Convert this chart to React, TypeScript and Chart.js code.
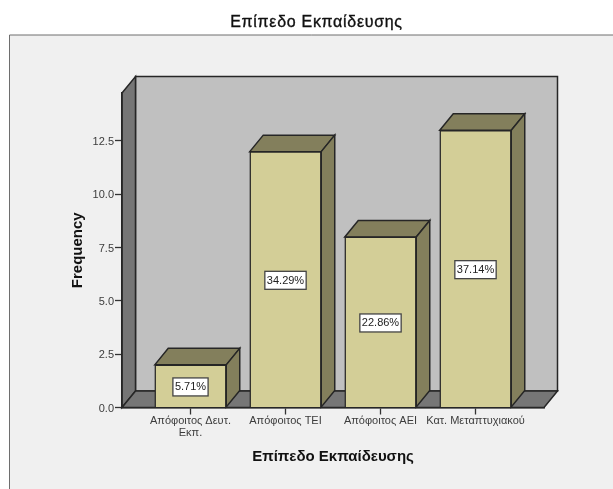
import React, { useEffect, useRef } from "react";
import { Chart, registerables } from "chart.js";

Chart.register(...registerables);

const chartTitle = "Επίπεδο Εκπαίδευσης";
const categories: (string | string[])[] = [
  ["Απόφοιτος Δευτ.", "Εκπ."],
  "Απόφοιτος ΤΕΙ",
  "Απόφοιτος ΑΕΙ",
  "Κατ. Μεταπτυχιακού",
];
const positions = [0, 1, 2, 3];
const frequencies = [2, 12, 8, 13];
const percentLabels = ["5.71%", "34.29%", "22.86%", "37.14%"];
const frequencyTicks = [0, 2.5, 5, 7.5, 10, 12.5];

const FONT = '"Liberation Sans", Arial, sans-serif';
const DEPTH_X = 13.5;
const DEPTH_Y = 16.5;
const LINE = "#262626";
const FRONT = "#d3ce97";
const SHADE = "#837f5c";
const WALL = "#c0c0c0";
const FLOOR = "#767676";

function polygon(ctx: CanvasRenderingContext2D, pts: number[][], fill: string) {
  ctx.beginPath();
  pts.forEach(([x, y], i) => (i ? ctx.lineTo(x, y) : ctx.moveTo(x, y)));
  ctx.closePath();
  ctx.fillStyle = fill;
  ctx.fill();
  ctx.lineWidth = 1.5;
  ctx.strokeStyle = LINE;
  ctx.lineJoin = "miter";
  ctx.stroke();
}

// Panel, title and the box walls sit under the axes and bars.
const backdrop = {
  id: "backdrop",
  beforeDraw(chart: any) {
    const { ctx, chartArea: a, width, height } = chart;
    ctx.save();
    ctx.fillStyle = "#ffffff";
    ctx.fillRect(0, 0, width, height);
    ctx.fillStyle = "#f0f0f0";
    ctx.fillRect(9, 35, width - 9, height - 35);
    ctx.strokeStyle = "#6e6e6e";
    ctx.lineWidth = 1;
    ctx.beginPath();
    ctx.moveTo(9.5, height);
    ctx.lineTo(9.5, 35);
    ctx.lineTo(width, 35);
    ctx.stroke();

    ctx.fillStyle = "#111111";
    ctx.strokeStyle = "#111111";
    ctx.lineWidth = 0.35;
    ctx.font = `16px ${FONT}`;
    (ctx as any).letterSpacing = "0.7px";
    ctx.textAlign = "center";
    ctx.textBaseline = "middle";
    ctx.fillText(chartTitle, 316.5, 23);
    ctx.strokeText(chartTitle, 316.5, 23);
    (ctx as any).letterSpacing = "0px";

    polygon(
      ctx,
      [
        [a.left + DEPTH_X, a.top - DEPTH_Y],
        [a.right + DEPTH_X, a.top - DEPTH_Y],
        [a.right + DEPTH_X, a.bottom - DEPTH_Y],
        [a.left + DEPTH_X, a.bottom - DEPTH_Y],
      ],
      WALL
    );
    polygon(
      ctx,
      [
        [a.left, a.top],
        [a.left + DEPTH_X, a.top - DEPTH_Y],
        [a.left + DEPTH_X, a.bottom - DEPTH_Y],
        [a.left, a.bottom],
      ],
      FLOOR
    );
    polygon(
      ctx,
      [
        [a.left, a.bottom],
        [a.left + DEPTH_X, a.bottom - DEPTH_Y],
        [a.right + DEPTH_X, a.bottom - DEPTH_Y],
        [a.right, a.bottom],
      ],
      FLOOR
    );
    ctx.restore();
  },
};

// Extrudes each bar's top and side from its own element, then adds the percent box.
const extrusion = {
  id: "extrusion",
  beforeDatasetsDraw(chart: any) {
    const { ctx } = chart;
    ctx.save();
    chart.getDatasetMeta(0).data.forEach((bar: any) => {
      const { x, y, base, width } = bar.getProps(["x", "y", "base", "width"], true);
      const l = x - width / 2;
      const r = x + width / 2;
      polygon(
        ctx,
        [
          [l, y],
          [l + DEPTH_X, y - DEPTH_Y],
          [r + DEPTH_X, y - DEPTH_Y],
          [r, y],
        ],
        SHADE
      );
      polygon(
        ctx,
        [
          [r, y],
          [r + DEPTH_X, y - DEPTH_Y],
          [r + DEPTH_X, base - DEPTH_Y],
          [r, base],
        ],
        SHADE
      );
    });
    ctx.restore();
  },
  afterDatasetsDraw(chart: any) {
    const { ctx } = chart;
    ctx.save();
    ctx.font = `11px ${FONT}`;
    ctx.textAlign = "center";
    ctx.textBaseline = "middle";
    chart.getDatasetMeta(0).data.forEach((bar: any, i: number) => {
      const { x, y, base } = bar.getProps(["x", "y", "base"], true);
      const cy = (y + base) / 2 + 1;
      const text = percentLabels[i];
      const w = ctx.measureText(text).width + 4;
      const h = 18;
      ctx.fillStyle = "#ffffff";
      ctx.fillRect(x - w / 2, cy - h / 2, w, h);
      ctx.strokeStyle = "#444444";
      ctx.lineWidth = 1.3;
      ctx.strokeRect(x - w / 2, cy - h / 2, w, h);
      ctx.fillStyle = "#222222";
      ctx.fillText(text, x, cy + 0.5);
    });
    ctx.restore();
  },
};

export default function App() {
  const ref = useRef<HTMLCanvasElement>(null);

  useEffect(() => {
    const chart = new Chart(ref.current as HTMLCanvasElement, {
      type: "bar",
      data: {
        datasets: [
          {
            data: positions.map((x, i) => ({ x, y: frequencies[i] })),
            backgroundColor: FRONT,
            borderColor: LINE,
            borderWidth: 1.5,
            barThickness: 71.5,
          },
        ],
      },
      options: {
        animation: false,
        responsive: false,
        layout: { padding: { left: 0, top: 93, right: 69, bottom: 0 } },
        plugins: { legend: { display: false }, tooltip: { enabled: false } },
        scales: {
          x: {
            type: "linear",
            offset: false,
            min: -0.721,
            max: 3.721,
            afterBuildTicks: (axis: any) => {
              axis.ticks = positions.map((value) => ({ value }));
            },
            afterFit: (axis: any) => {
              axis.height = 81.5;
            },
            grid: {
              offset: false,
              drawOnChartArea: false,
              tickLength: 7,
              tickColor: "#333333",
              tickWidth: 1.3,
            },
            border: { color: LINE, width: 1.5 },
            ticks: {
              autoSkip: false,
              maxRotation: 0,
              padding: 1,
              color: "#3c3c3c",
              font: { family: FONT, size: 11, lineHeight: 1.05 },
              callback: (v: any) => categories[v as number],
            },
            title: {
              display: true,
              text: chartTitle,
              color: "#111111",
              font: { family: FONT, size: 15, weight: "bold" },
              padding: { top: 0, bottom: 23 },
            },
          },
          y: {
            min: 0,
            max: 14.75,
            afterBuildTicks: (axis: any) => {
              axis.ticks = frequencyTicks.map((value) => ({ value }));
            },
            afterFit: (axis: any) => {
              axis.width = 122;
            },
            grid: {
              drawOnChartArea: false,
              tickLength: 7,
              tickColor: "#333333",
              tickWidth: 1.3,
            },
            border: { color: LINE, width: 1.5 },
            ticks: {
              padding: 1,
              labelOffset: 1,
              color: "#3c3c3c",
              font: { family: FONT, size: 11 },
              callback: (v: any) => Number(v).toFixed(1),
            },
            title: {
              display: true,
              text: "Frequency",
              color: "#111111",
              font: { family: FONT, size: 15, weight: "bold" },
              padding: { top: 69, bottom: 0 },
            },
          },
        },
      },
      plugins: [backdrop, extrusion],
    } as any);
    return () => chart.destroy();
  }, []);

  return (
    <canvas
      ref={ref}
      width={613}
      height={489}
      style={{ position: "fixed", left: 0, top: 0, display: "block" }}
    />
  );
}
